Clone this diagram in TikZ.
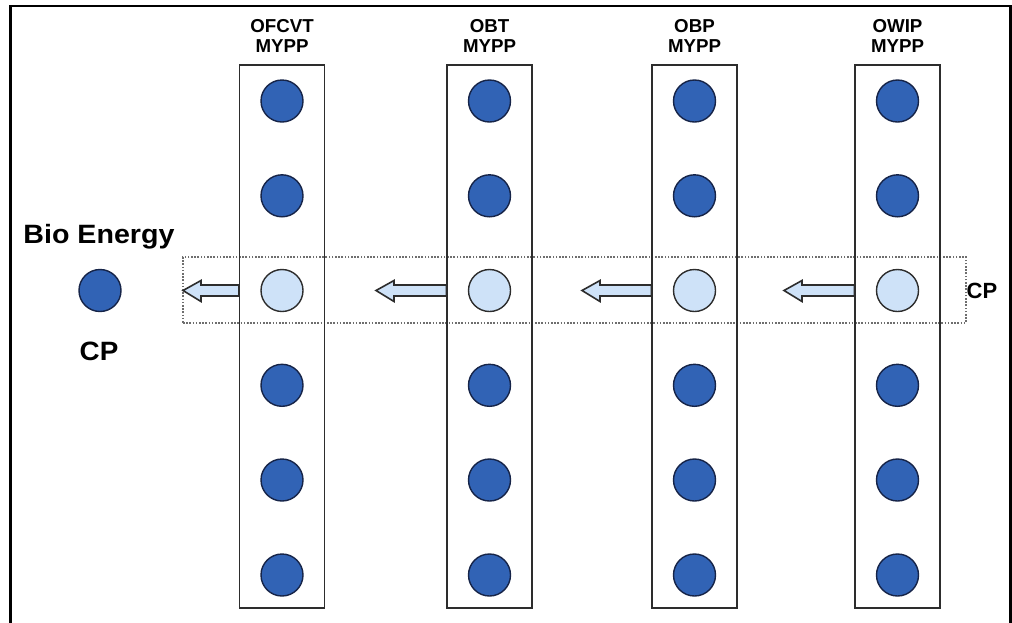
\documentclass[tikz,border=0pt]{standalone}
\usepackage{fontspec}
\setmainfont{Liberation Sans}
\usetikzlibrary{calc}

\definecolor{dotblue}{RGB}{49,99,181}
\definecolor{dotedge}{RGB}{22,36,72}
\definecolor{paleblue}{RGB}{206,226,248}
\definecolor{edgegray}{RGB}{45,45,45}
\definecolor{framegray}{RGB}{110,110,110}

\newcommand{\wideword}[2]{\scalebox{#1}[1]{#2}}

\begin{document}
\begin{tikzpicture}[x=1pt,y=-1pt,
  colbox/.style={draw=edgegray,line width=1.4pt,minimum width=85pt,minimum height=543pt,inner sep=0pt},
  bluedot/.style={circle,draw=dotedge,fill=dotblue,line width=1.4pt,minimum size=42pt,inner sep=0pt},
  paledot/.style={circle,draw=edgegray,fill=paleblue,line width=1.4pt,minimum size=42pt,inner sep=0pt},
  collabel/.style={font=\bfseries\fontsize{18.7}{20}\selectfont,align=center,inner sep=0pt},
  biglabel/.style={font=\bfseries\fontsize{26.5}{30}\selectfont,inner sep=0pt},
  flowarrow/.style={draw=edgegray,fill=paleblue,line width=1.6pt,line join=miter},
  cpband/.style={draw=framegray,line width=1.6pt,dash pattern=on 1.6pt off 1.6pt}
]
\useasboundingbox (0,0) rectangle (1012,622);
\clip (0,0) rectangle (1012,622);
\fill[white] (0,0) rectangle (1012,622);

% outer frame, open at the bottom
\draw[line width=3pt] (10.5,640) -- (10.5,6);
\draw[line width=2.5pt] (9,6) -- (1010.5,6) -- (1010.5,640);

% band of collection points
\node[cpband,minimum width=783pt,minimum height=66pt,inner sep=0pt] (band) at (574.5,290) {};

% columns of producers
\foreach \name/\cx/\top in {c1/282/OFCVT,c2/489.5/OBT,c3/694.5/OBP,c4/897.5/OWIP}{
  \node[colbox] (\name) at (\cx,336.5) {};
  \node[collabel,anchor=base] (\name-label) at (\cx,52.7) {\top\\MYPP};
  \foreach \r/\ry in {1/101,2/195.8,4/385.3,5/480,6/575}{
    \node[bluedot] (\name-\r) at (\cx,\ry) {};
  }
  \node[paledot] (\name-3) at (\cx,290.5) {};
}

% bio energy plant
\node[bluedot] (bio) at (100,290.5) {};
\node[biglabel,anchor=base] (bio-label) at (99,243) {\wideword{1.08}{Bio Energy}};
\node[biglabel,anchor=base] (bio-cp) at (99,360) {\wideword{1.05}{CP}};
\node[font=\bfseries\fontsize{22}{26}\selectfont,inner sep=0pt] (band-cp) at (982,290.5) {CP};

% block arrows: tail on the column edge, tip to the left
\foreach \col/\tip in {c1/183,c2/376,c3/582,c4/784}{
  \path (\col.west |- \col-3) coordinate (\col-tail);
  \draw[flowarrow]
    (\col-tail) ++(0,-5.5) -- ($(\tip,285) + (18,0)$) -- ++(0,-4.5)
    -- (\tip,290.5) -- ($(\tip,301.5) + (18,0)$) -- ++(0,-5.5)
    -- ($(\col-tail) + (0,5.5)$) -- cycle;
}
\end{tikzpicture}
\end{document}
